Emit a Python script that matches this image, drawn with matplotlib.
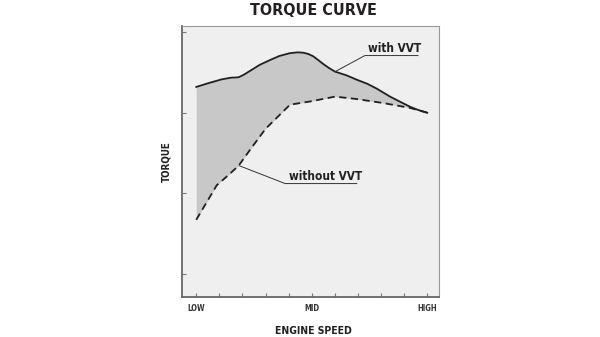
import matplotlib.pyplot as plt
import numpy as np

# engine speed positions (0 = LOW, 5 = MID, 10 = HIGH) and torque (arbitrary units)
speed_vvt = np.array([0, 0.5, 1.11, 1.5, 1.83, 2.05, 2.33, 2.75, 3.2, 3.6, 4.06, 4.4, 4.64, 4.85,
                      5.07, 5.3, 5.5, 5.75, 6.01, 6.5, 6.95, 7.4, 7.81, 8.1, 8.39, 8.8, 9.25, 9.6, 10])
torque_vvt = np.array([2.32, 2.365, 2.415, 2.435, 2.44, 2.47, 2.52, 2.595, 2.655, 2.705, 2.74, 2.75,
                       2.745, 2.73, 2.70, 2.65, 2.605, 2.555, 2.51, 2.465, 2.41, 2.36, 2.30, 2.25,
                       2.20, 2.14, 2.075, 2.035, 2.0])

speed_novvt = np.array([0, 0.89, 1.33, 1.83, 2.33, 3.0, 4.06, 4.93, 6.01, 6.95, 8.1, 9.25, 10])
torque_novvt = np.array([0.67, 1.10, 1.21, 1.34, 1.54, 1.80, 2.10, 2.14, 2.20, 2.17, 2.12, 2.06, 2.0])

tick_pos = [0, 5, 10]
tick_labels = ['LOW', 'MID', 'HIGH']

font = ['DejaVu Sans Condensed', 'Liberation Sans Narrow', 'DejaVu Sans']
ink = '#231f20'
txt = dict(family=font, fontweight='bold', fontstretch='condensed', color=ink)

fig = plt.figure(figsize=(6, 3.37), dpi=100)
ax = fig.add_axes([0.3028, 0.1196, 0.4289, 0.8032])
ax.set_facecolor('#efefef')

# shaded gain between the two curves
fill_x = np.union1d(speed_vvt, speed_novvt)
ax.fill_between(fill_x, np.interp(fill_x, speed_novvt, torque_novvt),
                np.interp(fill_x, speed_vvt, torque_vvt), color='#c8c8c8', lw=0)

ax.plot(speed_vvt, torque_vvt, color=ink, lw=1.3, solid_joinstyle='round')
ax.plot(speed_novvt, torque_novvt, color=ink, lw=1.3, ls=(0, (4, 2.5)))

ax.set_xlim(-0.63, 10.51)
ax.set_ylim(-0.285, 3.077)

ax.set_xticks(np.arange(0, 11))
ax.set_xticklabels([tick_labels[tick_pos.index(i)] if i in tick_pos else '' for i in range(11)],
                   family=font, fontstretch='condensed', fontsize=5.5, fontweight='bold',
                   color='#333333')
ax.set_yticks([0, 1, 2, 3])
ax.set_yticklabels([])
ax.tick_params(direction='in', length=3, width=0.8, color='#777777', pad=5)

for side in ['left', 'bottom']:
    ax.spines[side].set_color('#666666')
    ax.spines[side].set_linewidth(1.3)
for side in ['top', 'right']:
    ax.spines[side].set_color('#999999')
    ax.spines[side].set_linewidth(0.8)

# callouts
ax.plot([6.01, 7.3, 9.6], [2.51, 2.71, 2.71], color='#333333', lw=0.7)
ax.text(7.45, 2.75, 'with VVT', fontsize=8.5, **txt)
ax.plot([1.88, 3.85, 6.95], [1.34, 1.12, 1.12], color='#333333', lw=0.7)
ax.text(4.0, 1.16, 'without VVT', fontsize=8.5, **txt)

fig.text(0.523, 0.97, 'TORQUE CURVE', fontsize=11.5, ha='center', va='center', **txt)
fig.text(0.523, 0.018, 'ENGINE SPEED', fontsize=7.5, ha='center', va='center',
         **txt).set_y(1 - 331 / 337)
fig.text(0.278, 0.52, 'TORQUE', fontsize=7, ha='center', va='center', rotation=90, **txt)

fig.savefig('out.png', dpi=100, facecolor='white')
